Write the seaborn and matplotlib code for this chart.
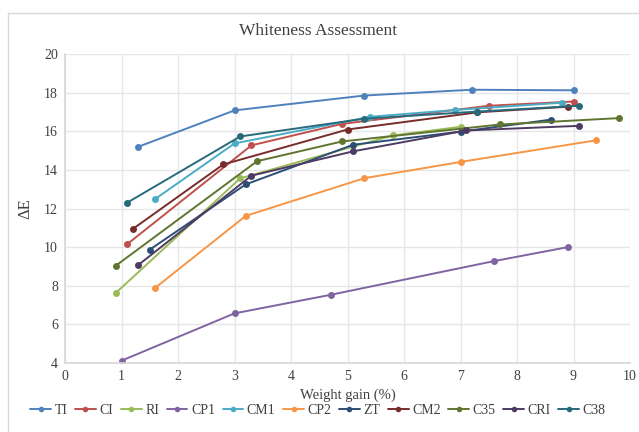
import pandas as pd
import matplotlib
matplotlib.use("Agg")
import matplotlib.pyplot as plt
from matplotlib.lines import Line2D
import seaborn as sns

# Dados (ganho de peso %, ΔE)
series = ["TI", "CI", "RI", "CP1", "CM1", "CP2", "ZT", "CM2", "C35", "CRI", "C38"]

ti_x = [1.3, 3.0, 5.3, 7.2, 9.0]
ti_y = [15.2, 17.08, 17.85, 18.15, 18.12]
ci_x = [1.1, 3.3, 4.9, 7.5, 9.0]
ci_y = [10.15, 15.27, 16.38, 17.32, 17.54]
ri_x = [0.9, 3.1, 5.8, 7.0]
ri_y = [7.63, 13.56, 15.78, 16.23]
cp1_x = [1.0, 3.0, 4.7, 7.6, 8.9]
cp1_y = [4.12, 6.57, 7.53, 9.28, 10.0]
cm1_x = [1.6, 3.0, 5.4, 6.9, 8.8]
cm1_y = [12.5, 15.37, 16.75, 17.1, 17.48]
cp2_x = [1.6, 3.2, 5.3, 7.0, 9.4]
cp2_y = [7.9, 11.62, 13.57, 14.41, 15.53]
zt_x = [1.5, 3.2, 5.1, 7.0, 8.6]
zt_y = [9.87, 13.25, 15.3, 15.98, 16.6]
cm2_x = [1.2, 2.8, 5.0, 7.3, 8.9]
cm2_y = [10.94, 14.28, 16.09, 16.98, 17.27]
c35_x = [0.9, 3.4, 4.9, 7.7, 9.8]
c35_y = [9.04, 14.45, 15.47, 16.35, 16.68]
cri_x = [1.3, 3.3, 5.1, 7.1, 9.1]
cri_y = [9.08, 13.7, 14.96, 16.04, 16.28]
c38_x = [1.1, 3.1, 5.3, 7.3, 9.1]
c38_y = [12.3, 15.73, 16.65, 17.02, 17.32]

cores = ["#4F81BD", "#C0504D", "#9BBB59", "#8064A2", "#4BACC6", "#F79646",
         "#2C4D75", "#772C2A", "#5F7530", "#4D3B62", "#276A7C"]

xs = [ti_x, ci_x, ri_x, cp1_x, cm1_x, cp2_x, zt_x, cm2_x, c35_x, cri_x, c38_x]
ys = [ti_y, ci_y, ri_y, cp1_y, cm1_y, cp2_y, zt_y, cm2_y, c35_y, cri_y, c38_y]

linhas = []
for nome, x, y in zip(series, xs, ys):
    for a, b in zip(x, y):
        linhas.append({"amostra": nome, "ganho": a, "dE": b})
df = pd.DataFrame(linhas)

sns.set_theme(style="whitegrid")
plt.rcParams["font.family"] = ["Liberation Serif", "DejaVu Serif"]

fig = plt.figure(figsize=(6.39, 4.32), dpi=100)
ax = fig.add_axes([65 / 639, 1 - 363 / 432, 565 / 639, 309 / 432])

sns.lineplot(data=df, x="ganho", y="dE", hue="amostra", hue_order=series,
             palette=cores, marker="o", markersize=5, markeredgewidth=0,
             linewidth=1.4, sort=False, estimator=None, ax=ax, legend=False)

ax.set_xlim(0, 10)
ax.set_ylim(4, 20)
ax.set_xticks(range(0, 11))
ax.set_yticks(range(4, 21, 2))
ax.grid(True, color="#E6E6E6", linewidth=1)
for lado in ["top", "right"]:
    ax.spines[lado].set_visible(False)
for lado in ["left", "bottom"]:
    ax.spines[lado].set_color("#D9D9D9")
ax.tick_params(axis="both", labelsize=10, colors="#404040", length=0, pad=5)
ax.set_xlabel("Weight gain (%)", fontsize=10.5, color="#404040", labelpad=4)
ax.set_ylabel("ΔE", fontsize=12, color="#404040", labelpad=8)
fig.text(318 / 639, 1 - 31 / 432, "Whiteness Assessment", ha="center", va="center",
         fontsize=12.5, color="#404040")

handles = [Line2D([0], [0], color=c, marker="o", markersize=4, markeredgewidth=0,
                  linewidth=1.4) for c in cores]
fig.legend(handles, series, loc="center", bbox_to_anchor=(318 / 639, 1 - 410 / 432),
           ncol=11, frameon=False, fontsize=10, handlelength=1.5, handletextpad=0.25,
           columnspacing=0.55, labelcolor="#404040")

# moldura do gráfico
fig.add_artist(Line2D([8 / 639, 8 / 639], [0, 1 - 13 / 432], color="#D9D9D9", linewidth=1))
fig.add_artist(Line2D([8 / 639, 1], [1 - 13 / 432, 1 - 13 / 432], color="#D9D9D9", linewidth=1))

fig.savefig("out.png", dpi=100)
